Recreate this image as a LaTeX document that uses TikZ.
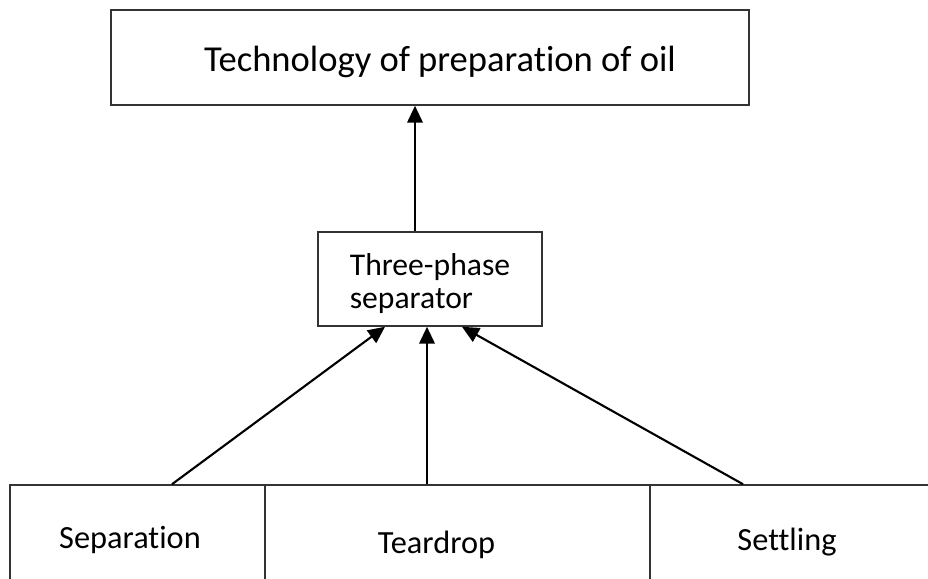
\documentclass[tikz,border=0pt]{standalone}
\usepackage{fontspec}
\setmainfont{Carlito}[Ligatures=NoCommon]
\usetikzlibrary{arrows.meta}
\usetikzlibrary{positioning}

\begin{document}
\begin{tikzpicture}[
  box/.style={draw=black!80, line width=1.1pt, rectangle, align=center, inner sep=0pt},
  up/.style={-{Triangle[width=11pt,length=12pt]}, line width=1.5pt},
  font=\fontsize{23}{28}\selectfont]
    \useasboundingbox (0,0) rectangle (23.2,-14.475);
    \clip (0,0) rectangle (23.2,-14.475);
            \node[box, minimum width=15.95cm, minimum height=2.375cm, font=\fontsize{26}{30}\selectfont] (tech) at (10.75,-1.4375) {\hspace*{0.5cm}\raisebox{-0.12cm}[\height][\depth]{Technology of preparation of oil}};
            \node[box, align=left, minimum width=5.6cm, minimum height=2.35cm, font=\fontsize{22.5}{23.5}\selectfont] (sep3) at (10.75,-6.975) {\raisebox{-0.12cm}[\height][\depth]{Three-phase}\\\raisebox{-0.12cm}[\height][\depth]{separator}};
            \node[box, minimum width=6.375cm, minimum height=2.75cm] (sepa) at (3.4375,-13.5) {Separation\hspace*{0.375cm}};
            \node[box, minimum width=9.625cm, minimum height=2.75cm] (tear) at (11.4375,-13.5) {\raisebox{-0.12cm}[\height][\depth]{Teardrop}\hspace*{1.05cm}};
            \node[box, minimum width=7.5cm, minimum height=2.75cm] (sett) at (20,-13.5) {\raisebox{-0.05cm}[\height][\depth]{Settling}\hspace*{0.65cm}};
            \draw[up] ([xshift=-0.375cm]sep3.north) -- ([xshift=-0.375cm]tech.south);
            \draw[up] ([xshift=0.8625cm]sepa.north) -- ([xshift=-1.125cm]sep3.south);
            \draw[up] ([xshift=-0.7625cm]tear.north) -- ([xshift=-0.075cm]sep3.south);
            \draw[up] ([xshift=-1.425cm]sett.north) -- ([xshift=0.8cm]sep3.south);
\end{tikzpicture}
\end{document}
